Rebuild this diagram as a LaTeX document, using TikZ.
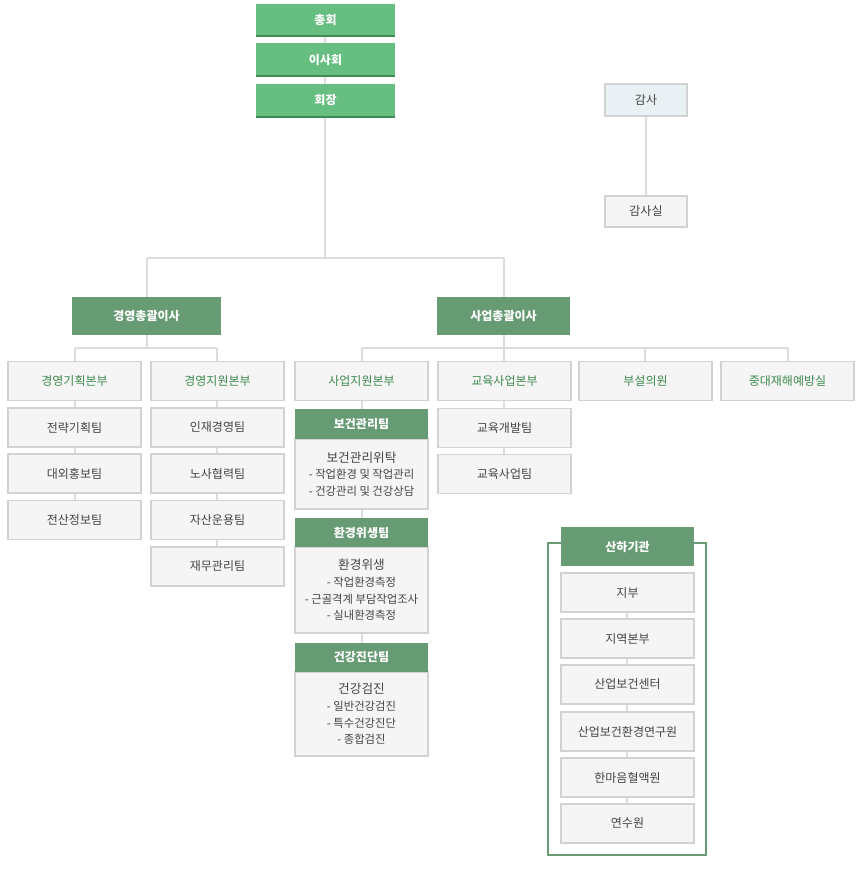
\documentclass[tikz,border=0pt]{standalone}
\usepackage{fontspec}
\setmainfont{Noto Sans CJK KR}
\definecolor{lg}{HTML}{66BF80}
\definecolor{lgd}{HTML}{3F8A57}
\definecolor{dg}{HTML}{669B74}
\definecolor{bx}{HTML}{F5F5F5}
\definecolor{bd}{HTML}{D2D2D2}
\definecolor{tx}{HTML}{444444}
\definecolor{gt}{HTML}{3E8A4E}
\definecolor{ln}{HTML}{DDDDDD}
\definecolor{au}{HTML}{E9F1F4}
\begin{document}
\begin{tikzpicture}[x=0.75pt,y=-0.75pt,
 base/.style={inner sep=0pt,align=center,font=\fontsize{9}{12}\selectfont},
 box/.style={base,draw=bd,line width=0.9pt,fill=bx,text=tx,minimum width=99.75pt,minimum height=29.25pt},
 div/.style={box,text=gt},
 top/.style={base,fill=lg,text=white,minimum width=104pt,minimum height=25pt,font=\fontsize{9}{12}\selectfont\bfseries},
 dark/.style={base,fill=dg,text=white,font=\fontsize{9}{12}\selectfont\bfseries},
 body/.style={base,draw=bd,line width=0.9pt,fill=bx,text=tx,minimum width=99.75pt,font=\fontsize{8.5}{12.5}\selectfont},
 conn/.style={draw=ln,line width=0.9pt}]
\useasboundingbox (0,0) rectangle (864,870);
% connectors first
\coordinate (hub) at (325,258);
\coordinate (hl) at (147,258);
\coordinate (hr) at (504,258);
\coordinate (l2a) at (75,348);
\coordinate (l2b) at (217,348);
\coordinate (l2c) at (362,348);
\coordinate (l2d) at (788,348);
\draw[conn] (325,20) -- (hub);
\draw[conn] (hl) -- (hr);
\draw[conn] (hl) -- (147,300);
\draw[conn] (hr) -- (504,300);
\draw[conn] (147,335) -- (147,348);
\draw[conn] (l2a) -- (l2b);
\draw[conn] (l2a) -- (75,400);
\draw[conn] (l2b) -- (217,560);
\draw[conn] (504,335) -- (504,348);
\draw[conn] (l2c) -- (l2d);
\draw[conn] (l2c) -- (362,740);
\draw[conn] (504,348) -- (504,470);
\draw[conn] (645,348) -- (645,370);
\draw[conn] (788,348) -- (788,370);
\draw[conn] (75,400) -- (75,520);
\draw[conn] (646,100) -- (646,210);
\draw[conn] (627,580) -- (627,830);
% top
\node[top] (a1) at (325.5,20.5) {총회};
\node[top] (a2) at (325.5,60) {이사회};
\node[top] (a3) at (325.5,100.5) {회장};
\foreach \n/\y in {a1/36,a2/76,a3/117}{\draw[lgd,line width=1.2pt] (256,\y) -- (395,\y);}
\node[box,fill=au,minimum width=61.5pt,minimum height=24pt] (g1) at (646,100) {감사};
\node[box,minimum width=61.5pt,minimum height=23.25pt] (g2) at (646,211.5) {감사실};
\node[dark,minimum width=111.75pt,minimum height=28.5pt] (m1) at (146.5,316) {경영총괄이사};
\node[dark,minimum width=99.75pt,minimum height=28.5pt] (m2) at (503.5,316) {사업총괄이사};
% level 2
\node[div] (d1) at (74.5,381) {경영기획본부};
\node[div] (d2) at (217.5,381) {경영지원본부};
\node[div] (d3) at (361.5,381) {사업지원본부};
\node[div] (d4) at (504.5,381) {교육사업본부};
\node[div] (d5) at (645.5,381) {부설의원};
\node[div] (d6) at (787.5,381) {중대재해예방실};
% col 1,2
\node[box] (t1) at (74.5,427.5) {전략기획팀};
\node[box] (t2) at (74.5,473.5) {대외홍보팀};
\node[box] (t3) at (74.5,520) {전산정보팀};
\node[box] (t4) at (217.5,427.5) {인재경영팀};
\node[box] (t5) at (217.5,473.5) {노사협력팀};
\node[box] (t6) at (217.5,520) {자산운용팀};
\node[box] (t7) at (217.5,566.5) {재무관리팀};
% col 3
\node[body,minimum height=52.5pt] (b1) at (361.5,474) {{\fontsize{9.5}{13}\selectfont 보건관리위탁}\\- 작업환경 및 작업관리\\- 건강관리 및 건강상담};
\node[dark,minimum width=99.75pt,minimum height=22.5pt] (h1) at (361.5,424) {보건관리팀};
\node[body,minimum height=64.5pt] (b2) at (361.5,590) {{\fontsize{9.5}{13}\selectfont 환경위생}\\- 작업환경측정\\- 근골격계 부담작업조사\\- 실내환경측정};
\node[dark,minimum width=99.75pt,minimum height=22pt] (h2) at (361.5,532.5) {환경위생팀};
\node[body,minimum height=63pt] (b3) at (361.5,714) {{\fontsize{9.5}{13}\selectfont 건강검진}\\- 일반건강검진\\- 특수건강진단\\- 종합검진};
\node[dark,minimum width=99.75pt,minimum height=22pt] (h3) at (361.5,657.5) {건강진단팀};
% col 4
\node[box] (e1) at (504.5,428) {교육개발팀};
\node[box] (e2) at (504.5,474) {교육사업팀};
% affiliates
\draw[draw=dg,line width=0.9pt] (561,543) -- (548,543) -- (548,855) -- (706,855) -- (706,543) -- (694,543);
\node[dark,minimum width=99.75pt,minimum height=29.25pt] (s0) at (627.5,546.5) {산하기관};
\node[box] (s1) at (627.5,592.5) {지부};
\node[box] (s2) at (627.5,638.5) {지역본부};
\node[box] (s3) at (627.5,684.5) {산업보건센터};
\node[box] (s4) at (627.5,731.5) {산업보건환경연구원};
\node[box] (s5) at (627.5,777.5) {한마음혈액원};
\node[box] (s6) at (627.5,823.5) {연수원};
\end{tikzpicture}
\end{document}
